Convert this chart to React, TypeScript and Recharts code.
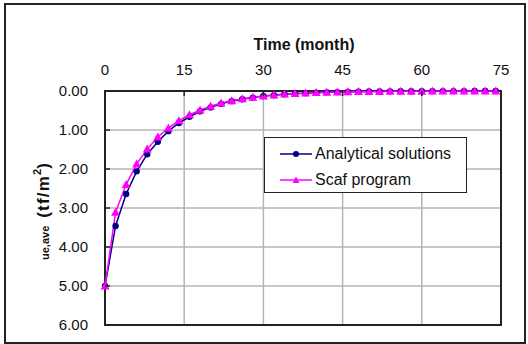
import { LineChart, Line, XAxis, YAxis, CartesianGrid, Legend, ReferenceArea } from "recharts";

const months = [
  0, 2, 4, 6, 8, 10, 12, 14, 16, 18, 20, 22, 24, 26, 28, 30, 32, 34, 36,
  38, 40, 42, 44, 46, 48, 50, 52, 54, 56, 58, 60, 62, 64, 66, 68, 70, 72, 74,
];
const analytical = [
  5.0, 3.46, 2.64, 2.06, 1.62, 1.3, 1.03, 0.82, 0.66, 0.52, 0.42, 0.33, 0.26,
  0.21, 0.17, 0.13, 0.11, 0.085, 0.07, 0.055, 0.044, 0.035, 0.028, 0.022,
  0.018, 0.014, 0.011, 0.009, 0.007, 0.006, 0.005, 0.004, 0.003, 0.002, 0.002,
  0.001, 0.001, 0.001,
];
const scaf = [
  5.0, 3.11, 2.4, 1.87, 1.49, 1.18, 0.95, 0.76, 0.61, 0.49, 0.39, 0.31, 0.25,
  0.2, 0.16, 0.13, 0.1, 0.08, 0.065, 0.05, 0.04, 0.032, 0.026, 0.02, 0.016,
  0.013, 0.01, 0.008, 0.006, 0.005, 0.004, 0.003, 0.003, 0.002, 0.002, 0.001,
  0.001, 0.001,
];
const xTicks = [0, 15, 30, 45, 60, 75];
const yTicks = [0, 1, 2, 3, 4, 5, 6];

const data = months.map((t, i) => ({ t, analytical: analytical[i], scaf: scaf[i] }));

const font = "'Liberation Sans', Arial, sans-serif";
const navy = "#000080";
const magenta = "#ff00ff";
const frame = "#222";

const XTick = ({ x, y, payload }: any) => (
  <g>
    <line x1={x} x2={x} y1={y} y2={y + 5} stroke={frame} strokeWidth={1.5} />
    <text x={x} y={y - 16} textAnchor="middle" fontSize={15} fill="#111" fontFamily={font}>
      {payload.value}
    </text>
  </g>
);

const YTick = ({ x, y, payload }: any) => (
  <g>
    <line x1={x} x2={x + 5} y1={y} y2={y} stroke={frame} strokeWidth={1.5} />
    <text x={x - 17} y={y + 5} textAnchor="end" fontSize={15} fill="#111" fontFamily={font}>
      {payload.value.toFixed(2)}
    </text>
  </g>
);

const Triangle = ({ cx, cy }: any) => {
  if (cx == null || cy == null) return null;
  return (
    <polygon
      points={`${cx},${cy - 4.5} ${cx - 4.5},${cy + 3.5} ${cx + 4.5},${cy + 3.5}`}
      fill={magenta}
    />
  );
};

const XTitle = ({ viewBox }: any) => (
  <text
    x={viewBox.x + viewBox.width / 2 + 1}
    y={viewBox.y - 11}
    textAnchor="middle"
    fontSize={16}
    fontWeight="bold"
    fill="#111"
    fontFamily={font}
  >
    Time (month)
  </text>
);

const YTitle = ({ viewBox }: any) => {
  const bx = viewBox.x + 49;
  const by = viewBox.y + viewBox.height / 2 + 52;
  return (
    <text
      x={bx}
      y={by}
      transform={`rotate(-90, ${bx}, ${by})`}
      textAnchor="start"
      fontWeight="bold"
      fill="#111"
      fontFamily={font}
    >
      <tspan fontSize={11}>ue,ave</tspan>
      <tspan fontSize={17} dx={8} letterSpacing={1.2}>(tf/m</tspan>
      <tspan fontSize={11} dy={-8}>2</tspan>
      <tspan fontSize={17} dy={8}>)</tspan>
    </text>
  );
};

const LegendBox = () => (
  <div
    style={{
      boxSizing: "border-box",
      width: 203,
      height: 56,
      border: `1.5px solid ${frame}`,
      background: "#fff",
      paddingTop: 3,
      paddingLeft: 15,
      fontFamily: font,
      fontSize: 16,
      color: "#111",
    }}
  >
    {[
      { name: "Analytical solutions", color: navy, marker: "circle" },
      { name: "Scaf program", color: magenta, marker: "tri" },
    ].map((item) => (
      <div key={item.name} style={{ height: 26, display: "flex", alignItems: "center" }}>
        <svg width={32} height={10} style={{ marginRight: 3 }}>
          <line x1={0} x2={32} y1={5} y2={5} stroke={item.color} strokeWidth={1.5} />
          {item.marker === "circle" ? (
            <circle cx={16} cy={5} r={3} fill={item.color} />
          ) : (
            <polygon points="16,1.5 12.5,8 19.5,8" fill={item.color} />
          )}
        </svg>
        <span>{item.name}</span>
      </div>
    ))}
  </div>
);

export default function App() {
  return (
    <div style={{ position: "absolute", left: 0, top: 0, width: 528, height: 344, background: "#fff" }}>
      <div
        style={{
          position: "absolute",
          left: 4,
          top: 3,
          width: 522,
          height: 341,
          boxSizing: "border-box",
          border: `2px solid ${frame}`,
        }}
      />
      <LineChart
        width={528}
        height={344}
        data={data}
        margin={{ top: 61, right: 27, bottom: 19, left: 0 }}
        style={{ position: "absolute", left: 0, top: 0 }}
      >
        <CartesianGrid stroke="#b4b4b4" strokeWidth={1.5} />
        <XAxis
          dataKey="t"
          type="number"
          orientation="top"
          domain={[0, 75]}
          ticks={xTicks}
          height={30}
          tickLine={false}
          tickSize={0}
          tickMargin={0}
          axisLine={false}
          tick={<XTick />}
          label={<XTitle />}
        />
        <YAxis
          type="number"
          reversed
          domain={[0, 6]}
          ticks={yTicks}
          width={105}
          tickLine={false}
          tickSize={0}
          tickMargin={0}
          axisLine={false}
          tick={<YTick />}
          label={<YTitle />}
        />
        <ReferenceArea
          x1={0}
          x2={75}
          y1={0}
          y2={6}
          fill="none"
          stroke={frame}
          strokeWidth={2}
          ifOverflow="visible"
        />
        <Line
          dataKey="analytical"
          stroke={navy}
          strokeWidth={1.5}
          dot={{ r: 3.2, fill: navy, stroke: navy, strokeWidth: 0 }}
          isAnimationActive={false}
        />
        <Line
          dataKey="scaf"
          stroke={magenta}
          strokeWidth={1.5}
          dot={<Triangle />}
          isAnimationActive={false}
        />
        <Legend
          layout="vertical"
          align="center"
          verticalAlign="middle"
          wrapperStyle={{ left: 264, top: 137, width: 203, height: 56 }}
          content={<LegendBox />}
        />
      </LineChart>
    </div>
  );
}
